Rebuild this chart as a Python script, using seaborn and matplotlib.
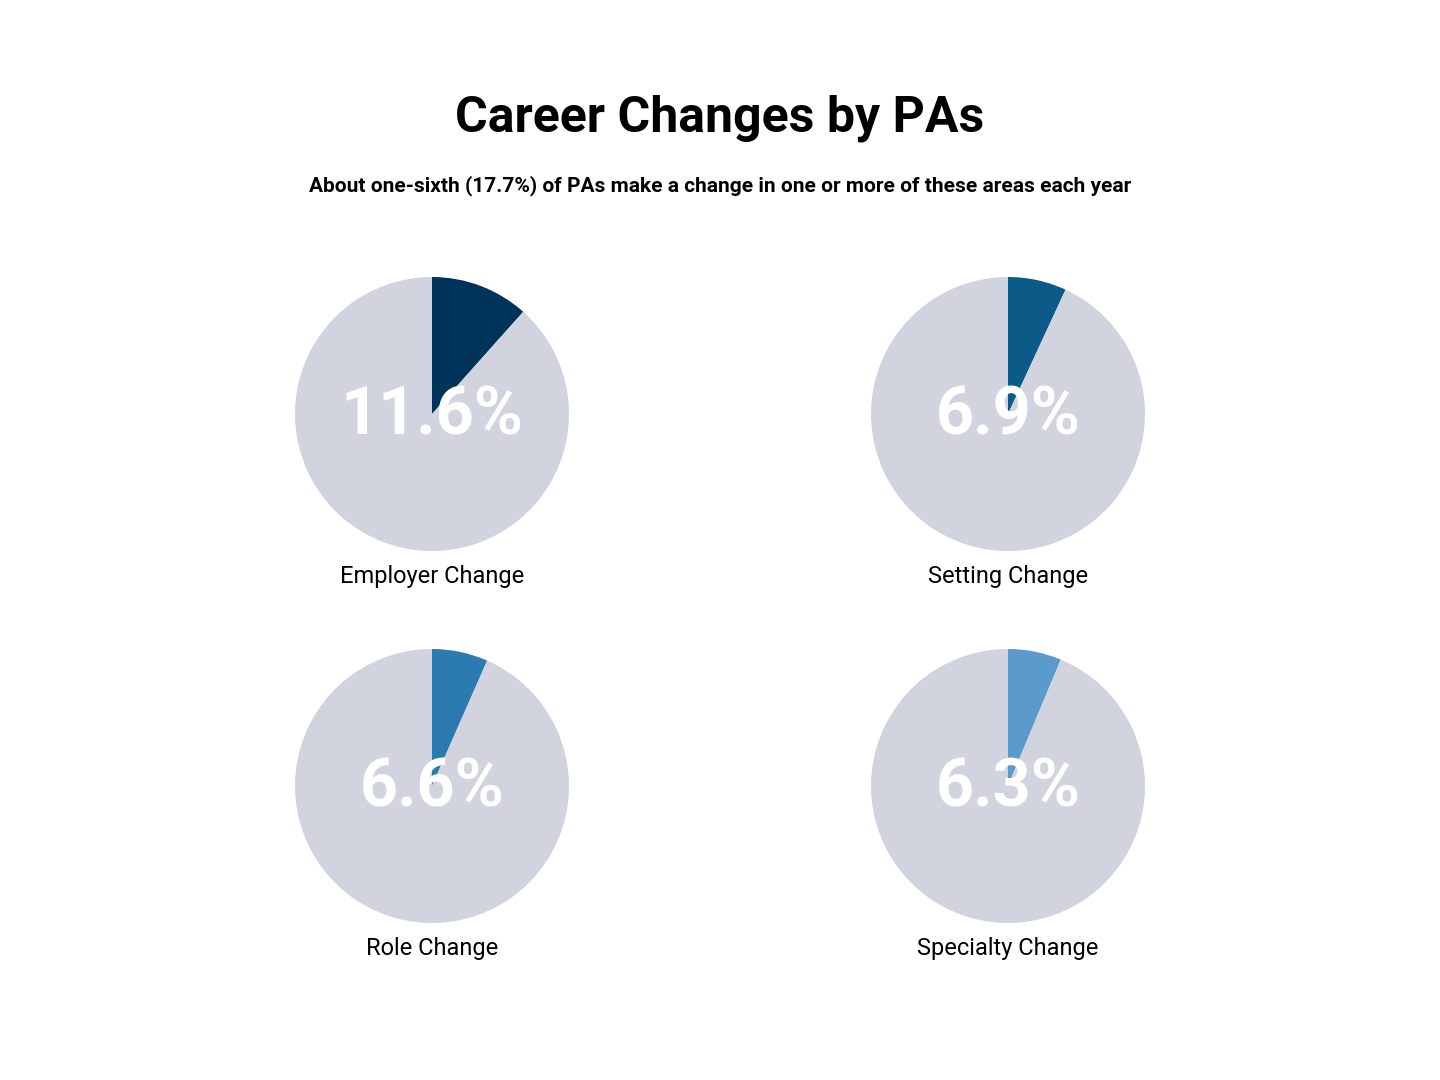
import matplotlib
matplotlib.use("Agg")
import matplotlib.pyplot as plt
import seaborn as sns

sns.set_theme(style="white", font="Roboto")

categories = ["Employer Change", "Setting Change", "Role Change", "Specialty Change"]
values = [11.6, 6.9, 6.6, 6.3]
labels = ["11.6%", "6.9%", "6.6%", "6.3%"]
colors = ["#00335a", "#0b5a88", "#2b7bb0", "#5b9bcb"]
rest_color = "#d1d3df"

W, H = 1440, 1080
fig = plt.figure(figsize=(W / 100, H / 100), dpi=100)
fig.patch.set_facecolor("white")

centers = [(432, 414), (1008, 414), (432, 786), (1008, 786)]
r = 137
for (cx, cy), cat, v, lab, c in zip(centers, categories, values, labels, colors):
    ax = fig.add_axes([(cx - r) / W, 1 - (cy + r) / H, 2 * r / W, 2 * r / H])
    ax.pie([v, 100 - v], colors=[c, rest_color], startangle=90, counterclock=False,
           radius=1.0, wedgeprops=dict(linewidth=0))
    ax.set_xlim(-1, 1); ax.set_ylim(-1, 1)
    ax.set_aspect("equal")
    ax.axis("off")
    ax.text(0, -0.02, lab, ha="center", va="center", color="white",
            fontsize=48, fontweight="bold")
    fig.text(cx / W, 1 - (cy + r + 26) / H, cat, ha="center", va="center",
             fontsize=17, color="black")

fig.text(0.5, 1 - 118 / H, "Career Changes by PAs", ha="center", va="center",
         fontsize=36, fontweight="bold", color="black")
fig.text(0.5, 1 - 186 / H,
         "About one-sixth (17.7%) of PAs make a change in one or more of these areas each year",
         ha="center", va="center", fontsize=15, fontweight="bold", color="black")

fig.savefig("out.png", dpi=100, facecolor="white")
